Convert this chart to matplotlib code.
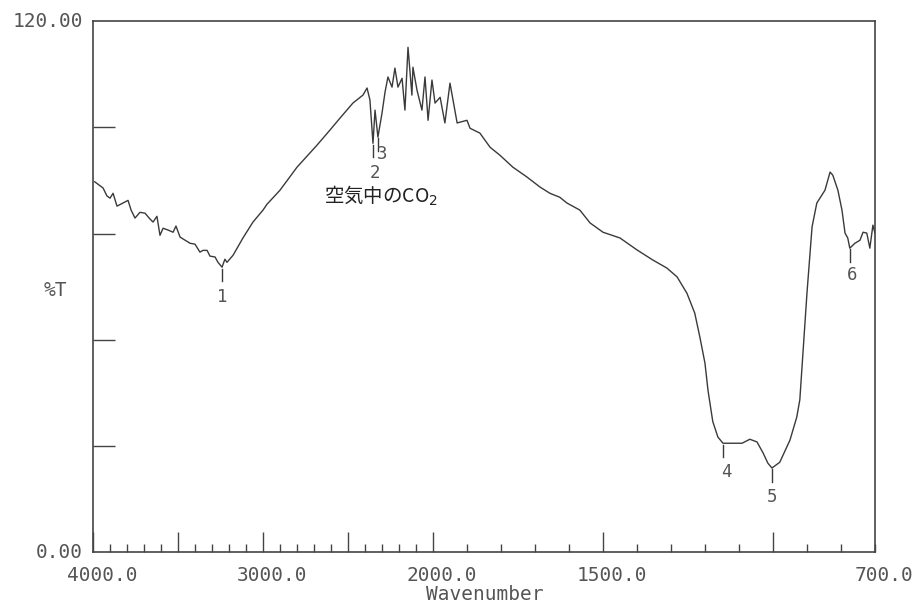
import numpy as np
import matplotlib
matplotlib.use("Agg")
import matplotlib.pyplot as plt
from matplotlib.ticker import FixedLocator, MultipleLocator, NullFormatter
import matplotlib.transforms as mtransforms

# ---- data ----
wavenumber = [3990, 3965, 3941, 3918, 3900, 3882, 3859, 3824, 3794, 3776, 3753, 3724,
              3694, 3665, 3647, 3624, 3606, 3588, 3559, 3529, 3512, 3488, 3459, 3429,
              3400, 3371, 3353, 3329, 3312, 3282, 3265, 3241, 3224, 3212, 3176, 3118,
              3059, 3000, 2977, 2900, 2800, 2682, 2606, 2547, 2471, 2412, 2388, 2371,
              2353, 2341, 2324, 2300, 2282, 2265, 2241, 2224, 2206, 2182, 2165, 2147,
              2124, 2118, 2094, 2065, 2047, 2029, 2006, 1994, 1979, 1965, 1950, 1941,
              1929, 1900, 1891, 1862, 1832, 1803, 1765, 1724, 1685, 1656, 1627, 1606,
              1568, 1538, 1500, 1450, 1400, 1353, 1312, 1282, 1253, 1230, 1215, 1200,
              1191, 1177, 1162, 1147, 1118, 1091, 1068, 1047, 1029, 1015, 1003,
              980, 950, 930, 921, 900, 885, 871, 856, 847, 832, 824, 809, 797,
              788, 780, 774, 759, 744, 735, 724, 715, 706, 700]
transmittance = [83.7, 83.0, 82.3, 80.5, 80.0, 81.1, 78.2, 78.9, 79.5, 77.3, 75.5, 76.8,
                 76.6, 75.3, 74.6, 75.9, 71.6, 73.2, 72.8, 72.3, 73.7, 71.2, 70.5, 69.8,
                 69.6, 67.8, 68.2, 68.2, 66.9, 66.7, 65.5, 64.4, 66.2, 65.5, 67.1, 71.0,
                 74.6, 77.3, 78.6, 81.8, 87.0, 92.0, 95.4, 98.1, 101.5, 103.3, 104.9, 102.2,
                 92.4, 99.9, 93.8, 99.2, 104.0, 107.4, 105.1, 109.4, 105.1, 107.1, 99.9, 114.1,
                 103.3, 109.6, 104.4, 99.9, 107.4, 97.6, 106.7, 101.5, 102.8, 97.0, 106.0, 102.2,
                 97.0, 97.6, 95.8, 94.7, 91.5, 89.7, 87.0, 84.8, 82.5, 81.1, 80.2, 78.9,
                 77.3, 74.4, 72.3, 71.0, 68.3, 66.0, 64.2, 62.2, 58.5, 54.0, 48.6, 42.7,
                 36.5, 29.5, 26.0, 24.6, 24.6, 24.6, 25.5, 24.9, 22.4, 20.1, 19.0,
                 20.3, 25.3, 30.5, 34.4, 58.5, 73.5, 78.9, 80.7, 81.8, 85.9, 85.2, 81.8, 77.3,
                 72.1, 71.0, 68.7, 69.8, 70.5, 72.3, 72.1, 68.7, 73.9, 72.1]

peak_labels = ["1", "2", "3", "4", "5", "6"]
peak_wn = [3241, 2353, 2324, 1147, 1003, 774]
peak_t = [64.4, 92.4, 93.8, 24.6, 19.0, 68.7]

xtick_labels = ["4000.0", "3000.0", "2000.0", "1500.0", "700.0"]
xtick_label_pos = [4000, 3000, 2000, 1500, 700]
major_ticks = [4000, 3500, 3000, 2500, 2000, 1500, 1000]
y_ticks = [24, 48, 72, 96]

# ---- scale: 4000-2000 compressed by 2 vs. 2000-700 (monotonic increasing) ----
def fwd(w):
    w = np.asarray(w, dtype=float)
    return np.where(w >= 2000, (w - 2000) / 2.0, w - 2000)

def inv(q):
    q = np.asarray(q, dtype=float)
    return np.where(q >= 0, 2000 + 2 * q, 2000 + q)

GRAY = "#555555"
LINE = "#3a3a3a"
mono = "DejaVu Sans Mono"

fig = plt.figure(figsize=(9.21, 6.06), dpi=100)
ax = fig.add_axes([0.101, 0.089, 0.849, 0.876])
ax.set_xscale("function", functions=(fwd, inv))
ax.set_xlim(4000, 700)
ax.set_ylim(0, 120)

ax.plot(wavenumber, transmittance, color=LINE, lw=1.0)

for s in ax.spines.values():
    s.set_color("#444444")
    s.set_linewidth(1.2)

ax.xaxis.set_major_locator(FixedLocator(major_ticks))
ax.xaxis.set_minor_locator(MultipleLocator(100))
ax.xaxis.set_major_formatter(NullFormatter())
ax.xaxis.set_minor_formatter(NullFormatter())
ax.tick_params(axis="x", which="major", direction="in", length=14.5, width=1.0, color="#444444")
ax.tick_params(axis="x", which="minor", direction="in", length=5.8, width=1.0, color="#444444")
ax.yaxis.set_major_locator(FixedLocator(y_ticks))
ax.yaxis.set_major_formatter(NullFormatter())
ax.tick_params(axis="y", which="major", direction="in", length=16, width=1.0, color="#444444")

# x tick labels (offset right like the plotter output)
off = mtransforms.ScaledTranslation(9 / 100, -23 / 100, fig.dpi_scale_trans)
tr = mtransforms.blended_transform_factory(ax.transData, ax.transAxes) + off
for lab, pos in zip(xtick_labels, xtick_label_pos):
    ax.text(pos, 0, lab, transform=tr, ha="center", va="center",
            family=mono, fontsize=14, color=GRAY)

# y labels
ax.text(-0.013, 1.0, "120.00", transform=ax.transAxes, ha="right", va="center",
        family=mono, fontsize=14, color=GRAY)
ax.text(-0.013, 0.0, "0.00", transform=ax.transAxes, ha="right", va="center",
        family=mono, fontsize=14, color=GRAY)
fig.text(55 / 921, 1 - 290 / 606, "%T", ha="center", va="center",
         family=mono, fontsize=14, color=GRAY)
fig.text(485 / 921, 1 - 595 / 606, "Wavenumber", ha="center", va="center",
         family=mono, fontsize=14, color=GRAY)

# peak markers
label_offsets = {"1": 30, "2": 30, "3": 17, "4": 29, "5": 29, "6": 27}
label_dx = {"1": 0, "2": 2, "3": 4, "4": 3, "5": 0, "6": 2}
for lab, w, t in zip(peak_labels, peak_wn, peak_t):
    ax.plot([w, w], [t - 0.3, t - 3.2], color=LINE, lw=1.0)
    ax.annotate(lab, xy=(w, t), xytext=(label_dx[lab] * 0.72, -label_offsets[lab] * 0.72),
                textcoords="offset points", ha="center", va="center",
                family=mono, fontsize=12.5, color=GRAY)

ax.text(2306, 80.5, "空気中のCO$_2$", ha="center", va="center", fontsize=14,
        family=["Noto Sans CJK JP", "DejaVu Sans"], color="#222222")

fig.savefig("out.png", dpi=100)
